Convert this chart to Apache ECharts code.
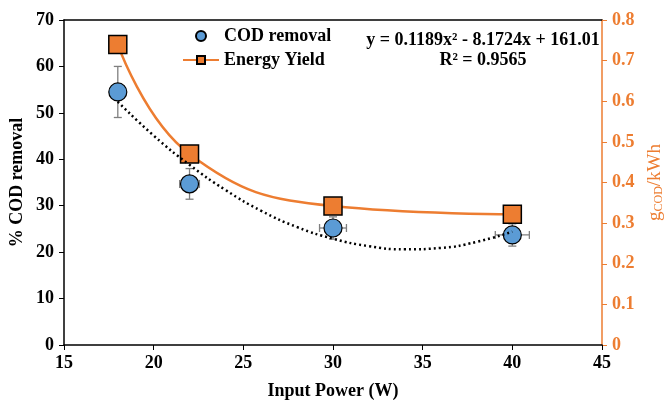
<!DOCTYPE html>
<html><head><meta charset="utf-8">
<script src="https://cdn.jsdelivr.net/npm/echarts@6/dist/echarts.min.js"></script>
<style>html,body{margin:0;padding:0;background:#fff}#c{width:667px;height:401px}</style>
</head><body><div id="c"></div>
<script>
// Data
var power = [18, 22, 30, 40];
var codRemoval = [54.5, 34.7, 25.2, 23.7];
var codErrY = [5.5, 3.3, 2.4, 2.4];
var codErrX = [0, 0.55, 0.75, 0.95];
var energyYield = [0.74, 0.47, 0.342, 0.322];
var trendX = [18, 20, 22, 24, 26, 28, 30, 32, 34, 36, 38, 40];
var trendY = [52.4, 45.1, 38.8, 33.4, 28.9, 25.4, 22.9, 21.3, 20.6, 20.9, 22.2, 24.4];
var xTicks = [15, 45, 5];
var yLeftTicks = [0, 70, 10];
var yRightTicks = [0, 0.8, 0.1];

var FONT = 'Liberation Serif';
var ORANGE = '#ED7D31';
var BLUE = '#5B9BD5';
var FS = 18;

var codData = power.map(function (p, i) { return [p, codRemoval[i]]; });
var errData = power.map(function (p, i) { return [p, codRemoval[i], codErrX[i], codErrY[i]]; });
var energyData = power.map(function (p, i) { return [p, energyYield[i]]; });
var trendData = trendX.map(function (x, i) { return [x, trendY[i]]; });

var chart = echarts.init(document.getElementById('c'), null, {renderer: 'canvas'});
var labelStyle = {fontFamily: FONT, fontWeight: 'bold', fontSize: FS, color: '#000'};
var nameStyle = {fontFamily: FONT, fontWeight: 'bold', fontSize: FS, color: '#000'};

chart.setOption({
  animation: false,
  grid: {left: 64, right: 65, top: 20, bottom: 56, outerBoundsMode: 'none', containLabel: false},
  legend: {
    left: 177, top: 22, orient: 'vertical', itemGap: 6,
    itemWidth: 36, itemHeight: 10,
    textStyle: {fontFamily: FONT, fontWeight: 'bold', fontSize: FS, color: '#000'},
    data: [{name: 'COD removal'}, {name: 'Energy Yield'}]
  },
  xAxis: [{
    type: 'value', min: xTicks[0], max: xTicks[1], interval: xTicks[2],
    name: 'Input Power (W)', nameLocation: 'middle', nameGap: 37,
    nameTextStyle: nameStyle,
    axisLine: {lineStyle: {color: '#000', width: 1.5}},
    axisTick: {show: true, inside: false, length: 5, lineStyle: {color: '#000'}},
    axisLabel: Object.assign({margin: 9}, labelStyle),
    splitLine: {show: false}
  }, {
    type: 'value', position: 'top', min: xTicks[0], max: xTicks[1],
    axisLine: {show: true, onZero: false, lineStyle: {color: '#000', width: 1.5}},
    axisTick: {show: false}, axisLabel: {show: false}, splitLine: {show: false}
  }],
  yAxis: [{
    type: 'value', min: yLeftTicks[0], max: yLeftTicks[1], interval: yLeftTicks[2],
    name: '% COD removal', nameLocation: 'middle', nameGap: 38, nameRotate: 90, nameMoveOverlap: false,
    nameTextStyle: nameStyle,
    axisLine: {show: true, lineStyle: {color: '#000', width: 1.5}},
    axisTick: {show: true, inside: false, length: 5, lineStyle: {color: '#000'}},
    axisLabel: Object.assign({margin: 10}, labelStyle),
    splitLine: {show: false}
  }, {
    type: 'value', position: 'right', min: yRightTicks[0], max: yRightTicks[1], interval: yRightTicks[2],
    name: '{g|g}{s|COD}{g|/kWh}', nameLocation: 'middle', nameGap: 40, nameRotate: 90,
    nameTextStyle: {
      rich: {
        g: {fontFamily: FONT, fontSize: 19, color: ORANGE, verticalAlign: 'bottom', lineHeight: 22},
        s: {fontFamily: FONT, fontSize: 12, color: ORANGE, verticalAlign: 'bottom', lineHeight: 22, padding: [7, 0, 0, 0]}
      }
    },
    axisLine: {show: true, lineStyle: {color: ORANGE, width: 1.5}},
    axisTick: {show: true, inside: false, length: 5, lineStyle: {color: ORANGE}},
    axisLabel: Object.assign({}, labelStyle, {color: ORANGE, margin: 10, formatter: function (v) { return String(+v.toFixed(1)); }}),
    splitLine: {show: false}
  }],
  graphic: [
    {type: 'text', x: 483, y: 31, style: {text: 'y = 0.1189x² - 8.1724x + 161.01', font: 'bold 18px "Liberation Serif"', fill: '#000', textAlign: 'center'}},
    {type: 'text', x: 483, y: 51, style: {text: 'R² = 0.9565', font: 'bold 18px "Liberation Serif"', fill: '#000', textAlign: 'center'}}
  ],
  series: [
    {
      name: 'Energy Yield', type: 'line', xAxisIndex: 0, yAxisIndex: 1, data: energyData,
      smooth: 0.45, symbol: 'rect', symbolSize: 18,
      lineStyle: {color: ORANGE, width: 2.5},
      itemStyle: {color: ORANGE, borderColor: '#000', borderWidth: 1.5},
      z: 3
    },
    {
      name: 'errbars', type: 'custom', xAxisIndex: 0, yAxisIndex: 0, data: errData, z: 2,
      renderItem: function (params, api) {
        var x = api.value(0), y = api.value(1), ex = api.value(2), ey = api.value(3);
        var c = api.coord([x, y]);
        var top = api.coord([x, y + ey]), bot = api.coord([x, y - ey]);
        var st = {stroke: '#7f7f7f', lineWidth: 1.3};
        var cap = 4;
        var ch = [
          {type: 'line', shape: {x1: c[0], y1: top[1], x2: c[0], y2: bot[1]}, style: st},
          {type: 'line', shape: {x1: c[0] - cap, y1: top[1], x2: c[0] + cap, y2: top[1]}, style: st},
          {type: 'line', shape: {x1: c[0] - cap, y1: bot[1], x2: c[0] + cap, y2: bot[1]}, style: st}
        ];
        if (ex > 0) {
          var l = api.coord([x - ex, y]), r = api.coord([x + ex, y]);
          ch.push({type: 'line', shape: {x1: l[0], y1: c[1], x2: r[0], y2: c[1]}, style: st});
          ch.push({type: 'line', shape: {x1: l[0], y1: c[1] - cap, x2: l[0], y2: c[1] + cap}, style: st});
          ch.push({type: 'line', shape: {x1: r[0], y1: c[1] - cap, x2: r[0], y2: c[1] + cap}, style: st});
        }
        return {type: 'group', children: ch};
      }
    },
    {
      name: 'COD removal', type: 'scatter', xAxisIndex: 0, yAxisIndex: 0, data: codData,
      symbol: 'circle', symbolSize: 18,
      itemStyle: {color: BLUE, borderColor: '#000', borderWidth: 1.2, opacity: 1},
      z: 4
    },
    {
      name: 'trend', type: 'line', xAxisIndex: 0, yAxisIndex: 0, data: trendData,
      smooth: true, symbol: 'none',
      lineStyle: {color: '#000', width: 2.5, type: [2, 3]},
      z: 5
    }
  ]
});
</script></body></html>
